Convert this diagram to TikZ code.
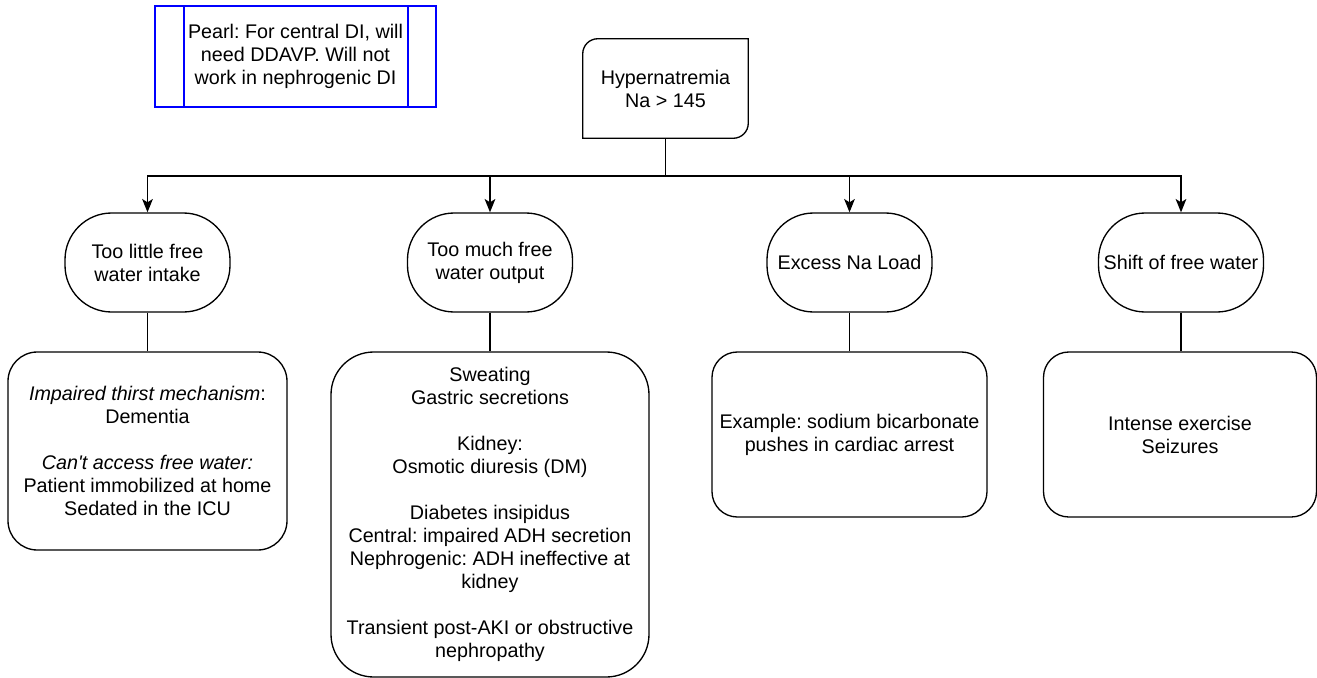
\documentclass[tikz,border=0pt]{standalone}
\usepackage{fontspec}
\setmainfont{Liberation Sans}[Ligatures=TeXOff]
\usetikzlibrary{arrows.meta}
\frenchspacing
\begin{document}
\begin{tikzpicture}[x=0.75pt,y=-0.75pt,
  txt/.style={align=center,font=\fontsize{14.8}{17.25}\selectfont,inner sep=0pt},
  pill/.style={txt,draw,line width=1pt,rounded corners=35pt,minimum width=123.75pt,minimum height=74.25pt},
  rbox/.style={txt,draw,line width=1pt},
  link/.style={line width=1pt},
  arr/.style={link,-{Stealth[length=10pt,width=8pt,inset=2.5pt]}}
]
\useasboundingbox (0,0) rectangle (1317,678);

% Pearl box
\node[txt,draw=blue,line width=2.2pt,minimum width=210.75pt,minimum height=75.75pt] (pearl) at (295.5,56.5)
  {Pearl: For central DI, will\\need DDAVP. Will not\\work in nephrogenic DI};
\draw[blue,line width=2.2pt] (184,6) -- (184,107);
\draw[blue,line width=2.2pt] (408,6) -- (408,107);

% Hypernatremia box
\node[txt,minimum width=123.75pt,minimum height=74.25pt] (hyp) at (665.5,88.5) {Hypernatremia\\Na > 145};
\draw[line width=1pt] (hyp.south west) -- ([yshift=-11.25pt]hyp.north west)
  arc[start angle=180,end angle=90,radius=11.25pt] -- (hyp.north east)
  -- ([yshift=11.25pt]hyp.south east) arc[start angle=0,end angle=-90,radius=11.25pt] -- cycle;

\coordinate (bus) at (665.5,176);

% second row
\node[pill] (n1) at (147.5,262.5) {Too little free\\water intake};
\node[pill] (n2) at (490,262.5) {Too much free\\water output};
\node[pill] (n3) at (849.5,262.5) {Excess Na Load};
\node[pill] (n4) at (1181,262.5) {Shift of free water};

% third row
\node[rbox,rounded corners=22pt,minimum width=209.25pt,minimum height=148.5pt] (b1) at (147.5,451)
  {\textit{Impaired thirst mechanism}:\\Dementia\\[17.25pt]\textit{Can't access free water:}\\Patient immobilized at home\\Sedated in the ICU};
\node[rbox,rounded corners=32pt,minimum width=238.5pt,minimum height=243.75pt] (b2) at (490,514.5)
  {Sweating\\Gastric secretions\\[17.25pt]Kidney:\\Osmotic diuresis (DM)\\[17.25pt]Diabetes insipidus\\Central: impaired ADH secretion\\Nephrogenic: ADH ineffective at\\kidney\\[17.25pt]Transient post-AKI or obstructive\\nephropathy};
\node[rbox,rounded corners=19pt,minimum width=206.25pt,minimum height=123.75pt] (b3) at (849.5,434.5)
  {Example: sodium bicarbonate\\pushes in cardiac arrest};
\node[rbox,rounded corners=19pt,minimum width=204.75pt,minimum height=123.75pt] (b4) at (1180,434.5)
  {Intense exercise\\Seizures};

% connectors
\draw[arr] (hyp.south) |- (bus -| n1.north) -- (n1.north);
\draw[arr] (hyp.south) |- (bus -| n2.north) -- (n2.north);
\draw[arr] (hyp.south) |- (bus -| n3.north) -- (n3.north);
\draw[arr] (hyp.south) |- (bus -| n4.north) -- (n4.north);
\draw[link] (n1.south) -- (n1.south |- b1.north);
\draw[link] (n2.south) -- (n2.south |- b2.north);
\draw[link] (n3.south) -- (n3.south |- b3.north);
\draw[link] (n4.south) -- (n4.south |- b4.north);
\end{tikzpicture}
\end{document}
